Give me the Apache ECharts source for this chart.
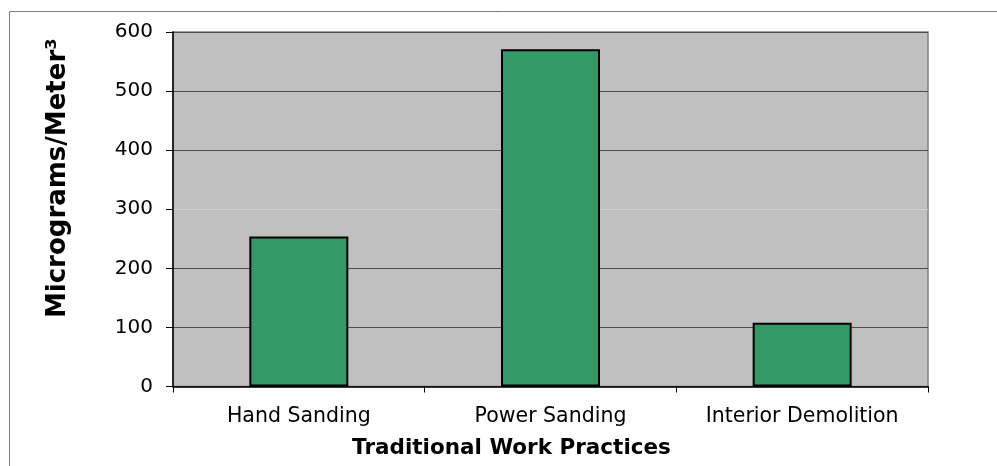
<!DOCTYPE html>
<html>
<head>
<meta charset="utf-8">
<script src="https://cdn.jsdelivr.net/npm/echarts@6/dist/echarts.min.js"></script>
<style>
html,body{margin:0;padding:0;background:#fff;}
#c{width:997px;height:466px;}
</style>
</head>
<body>
<div id="c"></div>
<script>
var categories = ['Hand Sanding', 'Power Sanding', 'Interior Demolition'];
var values = [254, 571, 108];
var yTicks = [0, 100, 200, 300, 400, 500, 600];

var chart = echarts.init(document.getElementById('c'), null, {renderer: 'canvas'});
var font = '"DejaVu Sans", "Liberation Sans", Arial, sans-serif';
chart.setOption({
  animation: false,
  backgroundColor: '#ffffff',
  graphic: [{
    type: 'rect',
    shape: {x: 9.5, y: 11.5, width: 1100, height: 600},
    style: {fill: 'none', stroke: '#808080', lineWidth: 1},
    silent: true,
    z: -10
  }],
  grid: {
    left: 173, right: 69, top: 32, bottom: 79.5,
    outerBoundsMode: 'none',
    containLabel: false,
    show: true,
    backgroundColor: '#C0C0C0',
    borderColor: '#808080',
    borderWidth: 1.5
  },
  xAxis: {
    type: 'category',
    data: categories,
    name: 'Traditional Work Practices',
    nameLocation: 'middle',
    nameGap: 51,
    nameTextStyle: {fontFamily: font, fontSize: 21.5, fontWeight: 'bold', color: '#000', padding: [0, 78, 0, 0]},
    axisLine: {show: true, lineStyle: {color: '#000', width: 1.5}},
    axisTick: {show: true, alignWithLabel: false, length: 6, lineStyle: {color: '#000'}},
    axisLabel: {fontFamily: font, fontSize: 20.5, color: '#000', margin: 20},
    splitLine: {show: false}
  },
  yAxis: {
    type: 'value',
    min: yTicks[0],
    max: yTicks[yTicks.length - 1],
    interval: 100,
    name: 'Micrograms/Meter³',
    nameLocation: 'middle',
    nameGap: 102,
    nameTextStyle: {fontFamily: font, fontSize: 26, fontWeight: 'bold', color: '#000', padding: [0, 0, 0, 62]},
    axisLine: {show: true, lineStyle: {color: '#000', width: 1.5}},
    axisTick: {show: true, length: 7, lineStyle: {color: '#000'}},
    axisLabel: {fontFamily: font, fontSize: 20, color: '#000', margin: 20},
    splitLine: {show: true, lineStyle: {color: ['#4d4d4d','#4d4d4d','#4d4d4d','#cfcfcf','#4d4d4d','#4d4d4d','#4d4d4d'], width: 1}}
  },
  series: [{
    type: 'bar',
    data: values,
    barWidth: 99,
    itemStyle: {color: '#339966', borderColor: '#000', borderWidth: 2}
  }]
});
</script>
</body>
</html>
